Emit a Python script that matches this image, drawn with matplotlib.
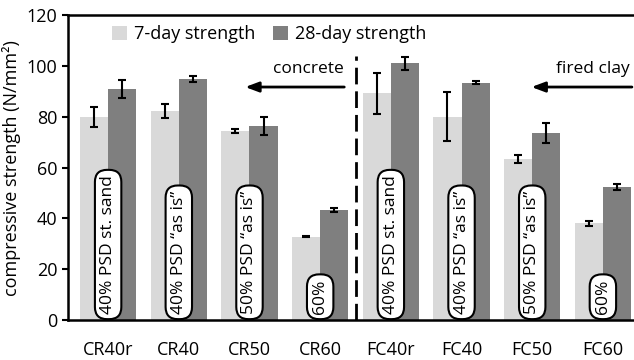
import numpy as np
import matplotlib.pyplot as plt

plt.rcParams['font.family'] = ['Open Sans', 'DejaVu Sans']

mixes = ["CR40r", "CR40", "CR50", "CR60", "FC40r", "FC40", "FC50", "FC60"]
str7 = [80.0, 82.3, 74.4, 32.8, 89.2, 80.0, 63.3, 38.1]
err7 = [4.0, 2.8, 0.7, 0.3, 8.2, 9.7, 1.6, 1.0]
str28 = [90.8, 94.9, 76.5, 43.3, 101.0, 93.4, 73.5, 52.5]
err28 = [3.5, 1.2, 3.5, 0.6, 2.6, 0.6, 3.9, 1.2]
psd_labels = ["40% PSD st. sand", "40% PSD \u201cas is\u201d", "50% PSD \u201cas is\u201d", "60%",
              "40% PSD st. sand", "40% PSD \u201cas is\u201d", "50% PSD \u201cas is\u201d", "60%"]

fig = plt.figure(figsize=(6.34, 3.6), dpi=100)
ax = fig.add_axes([0.107, 0.111, 0.893, 0.847])

x = np.arange(len(mixes))
w = 0.4
errkw = dict(ecolor="black", elinewidth=1.5, capsize=3, capthick=1.5)
ax.bar(x - w / 2, str7, w, yerr=err7, color="#d9d9d9", label="7-day strength", error_kw=errkw)
ax.bar(x + w / 2, str28, w, yerr=err28, color="#7f7f7f", label="28-day strength", error_kw=errkw)

# rotated mix descriptions in rounded boxes
for xi, txt in zip(x, psd_labels):
    ax.text(xi, 2.4, txt, rotation=90, ha="center", va="bottom", fontsize=12.5,
            bbox=dict(boxstyle="round,pad=0.3,rounding_size=0.7", fc="white", ec="black", lw=1.5))

# divider between concrete and fired clay
ax.plot([3.5, 3.5], [0, 104], color="black", lw=2, ls=(0, (6, 2.5)))

ax.annotate("", xy=(1.9, 91.7), xytext=(3.38, 91.7),
            arrowprops=dict(arrowstyle="-|>,head_length=0.8,head_width=0.3", color="black", lw=2))
ax.text(3.33, 95.5, "concrete", ha="right", va="bottom", fontsize=12.5)
ax.annotate("", xy=(5.95, 91.7), xytext=(7.45, 91.7),
            arrowprops=dict(arrowstyle="-|>,head_length=0.8,head_width=0.3", color="black", lw=2))
ax.text(7.38, 95.5, "fired clay", ha="right", va="bottom", fontsize=12.5)

ax.set_xlim(-0.57, 7.44)
ax.set_ylim(0, 120)
ax.set_yticks(range(0, 121, 20))
ax.set_xticks(x)
ax.set_xticklabels(mixes)
ax.tick_params(axis="x", length=0, pad=15, labelsize=13)
ax.tick_params(axis="y", length=4, width=1.5, labelsize=13)
ax.set_ylabel("compressive strength (N/mm\u00b2)", fontsize=13)
for s in ["left", "bottom", "top"]:
    ax.spines[s].set_linewidth(1.8)
ax.spines["right"].set_visible(False)

ax.legend(loc="upper left", ncol=2, frameon=False, fontsize=13, handlelength=0.8,
          handleheight=0.8, handletextpad=0.4, columnspacing=1.0, bbox_to_anchor=(0.05, 1.02))

fig.savefig("out.png", dpi=100)
